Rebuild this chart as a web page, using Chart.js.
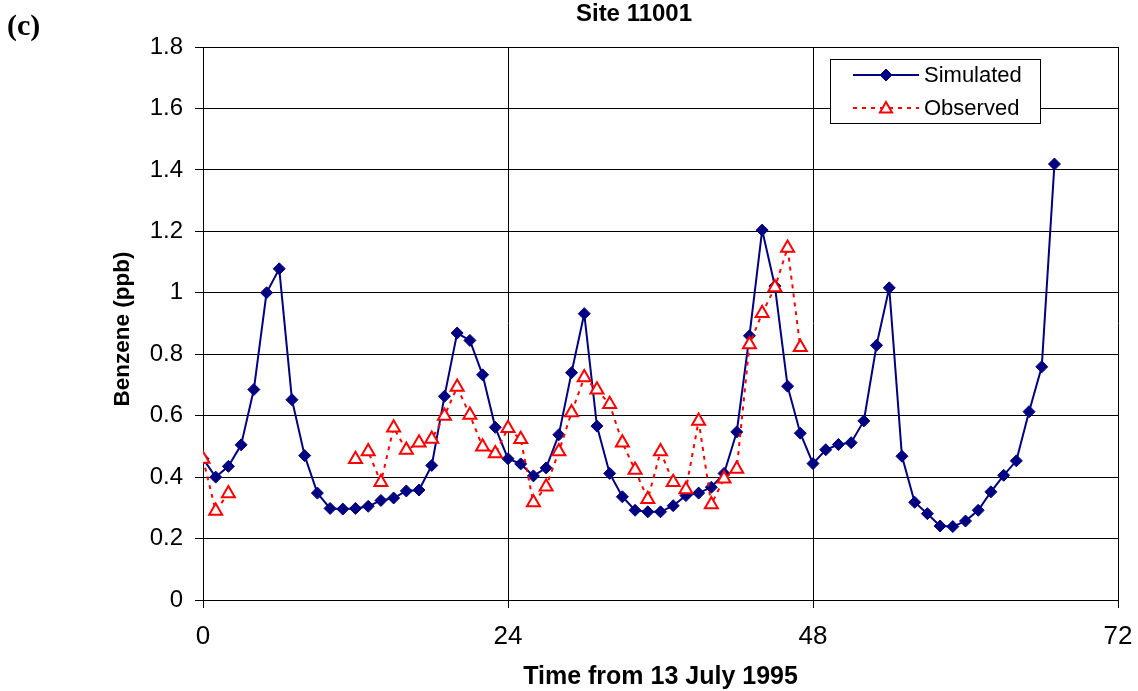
<!DOCTYPE html>
<html>
<head>
<meta charset="utf-8">
<title>Site 11001</title>
<script src="https://cdn.jsdelivr.net/npm/chart.js@4"></script>
<style>
  html, body { margin: 0; padding: 0; background: #fff; }
  #wrap { width: 1138px; height: 691px; }
</style>
</head>
<body>
<div id="wrap"><canvas id="myChart" width="1138" height="691"></canvas></div>
<script>
// Hours since start of 13 July 1995
var hours = [0, 1, 2, 3, 4, 5, 6, 7, 8, 9, 10, 11, 12, 13, 14, 15, 16, 17, 18, 19,
             20, 21, 22, 23, 24, 25, 26, 27, 28, 29, 30, 31, 32, 33, 34, 35, 36, 37, 38, 39,
             40, 41, 42, 43, 44, 45, 46, 47, 48, 49, 50, 51, 52, 53, 54, 55, 56, 57, 58, 59,
             60, 61, 62, 63, 64, 65, 66, 67];

// Modelled benzene (ppb)
var simulated = [0.46, 0.40, 0.435, 0.505, 0.685, 1.00, 1.078, 0.652, 0.47, 0.348,
                 0.298, 0.296, 0.298, 0.305, 0.324, 0.332, 0.355, 0.358, 0.438, 0.663,
                 0.869, 0.845, 0.733, 0.562, 0.46, 0.443, 0.404, 0.430, 0.538, 0.740,
                 0.932, 0.566, 0.412, 0.336, 0.292, 0.287, 0.287, 0.307, 0.340, 0.348,
                 0.367, 0.412, 0.547, 0.860, 1.204, 1.022, 0.696, 0.543, 0.444, 0.489,
                 0.506, 0.512, 0.583, 0.829, 1.016, 0.468, 0.318, 0.281, 0.241, 0.239,
                 0.257, 0.292, 0.352, 0.406, 0.453, 0.613, 0.759, 1.419];

// Measured benzene (ppb), null where no sample
var observed = [0.459, 0.29, 0.347, null, null, null, null, null, null, null,
                null, null, 0.458, 0.483, 0.383, 0.561, 0.488, 0.512, 0.524, 0.599,
                0.693, 0.602, 0.499, 0.477, 0.559, 0.523, 0.317, 0.369, 0.483, 0.610,
                0.724, 0.684, 0.637, 0.512, 0.423, 0.328, 0.483, 0.383, 0.360, 0.583,
                0.311, 0.395, 0.426, 0.832, 0.933, 1.017, 1.146, 0.823];

var xTicks = [0, 24, 48, 72];
var seriesNames = ['Simulated', 'Observed'];

function toPoints(values) {
    return values.map(function (v, i) { return { x: hours[i], y: v }; });
}

var NAVY = '#000080';
var RED = '#ff0000';
var SANS = '"Liberation Sans", Arial, sans-serif';

// Titles, axis names and the boxed legend
var decorations = {
    id: 'decorations',
    afterDraw: function (chart) {
        var ctx = chart.ctx;
        var area = chart.chartArea;
        ctx.save();
        ctx.fillStyle = '#000';

        ctx.font = 'bold 30px "Liberation Serif", "Times New Roman", serif';
        ctx.textAlign = 'left';
        ctx.textBaseline = 'middle';
        ctx.fillText('(c)', 7, 27);

        ctx.font = 'bold 24px ' + SANS;
        ctx.textAlign = 'center';
        ctx.fillText('Site 11001', 634, 14);

        ctx.font = 'bold 25px ' + SANS;
        ctx.fillText('Time from 13 July 1995', (area.left + area.right) / 2, 677);

        ctx.save();
        ctx.translate(123, 329);
        ctx.rotate(-Math.PI / 2);
        ctx.font = 'bold 22.5px ' + SANS;
        ctx.fillText('Benzene (ppb)', 0, 0);
        ctx.restore();

        // legend box
        var bx = 830.5, by = 59.5, bw = 210, bh = 64;
        ctx.fillStyle = '#fff';
        ctx.fillRect(bx, by, bw, bh);
        ctx.strokeStyle = '#000';
        ctx.lineWidth = 1;
        ctx.strokeRect(bx, by, bw, bh);

        var rows = [
            { y: 75, color: NAVY, dash: [], style: 'rectRot' },
            { y: 108, color: RED, dash: [4, 5], style: 'triangle' }
        ];
        rows.forEach(function (r, i) {
            ctx.save();
            ctx.strokeStyle = r.color;
            ctx.lineWidth = 2;
            ctx.setLineDash(r.dash);
            ctx.beginPath();
            ctx.moveTo(853, r.y);
            ctx.lineTo(919, r.y);
            ctx.stroke();
            ctx.restore();

            ctx.save();
            if (r.style === 'rectRot') {
                ctx.fillStyle = NAVY;
                ctx.strokeStyle = NAVY;
                ctx.lineWidth = 1;
                Chart.helpers.drawPoint(ctx, { pointStyle: 'rectRot', radius: 6, rotation: 0, borderWidth: 1 }, 886, r.y);
            } else {
                ctx.fillStyle = '#fff';
                ctx.strokeStyle = RED;
                ctx.lineWidth = 2;
                Chart.helpers.drawPoint(ctx, { pointStyle: 'triangle', radius: 7, rotation: 0, borderWidth: 2 }, 886, r.y + 1);
            }
            ctx.restore();

            ctx.fillStyle = '#000';
            ctx.font = '22px ' + SANS;
            ctx.textAlign = 'left';
            ctx.textBaseline = 'middle';
            ctx.fillText(seriesNames[i], 924, r.y + 1);
        });
        ctx.restore();
    }
};

var ctx = document.getElementById('myChart').getContext('2d');
var myChart = new Chart(ctx, {
    type: 'line',
    data: {
        datasets: [{
            label: seriesNames[0],
            data: toPoints(simulated),
            borderColor: NAVY,
            backgroundColor: NAVY,
            borderWidth: 2,
            pointStyle: 'rectRot',
            pointRadius: 6,
            pointBorderWidth: 1,
            tension: 0,
            order: 1
        }, {
            label: seriesNames[1],
            data: toPoints(observed),
            borderColor: RED,
            backgroundColor: '#fff',
            borderWidth: 2,
            borderDash: [4, 5],
            pointStyle: 'triangle',
            pointRadius: 7.5,
            pointBorderWidth: 2,
            spanGaps: false,
            tension: 0,
            order: 0
        }]
    },
    options: {
        responsive: false,
        animation: false,
        layout: { padding: { top: 47, right: 20, left: 0, bottom: 0 } },
        plugins: {
            legend: { display: false },
            title: { display: false },
            tooltip: { enabled: false }
        },
        scales: {
            x: {
                type: 'linear',
                min: 0,
                max: 72,
                afterBuildTicks: function (scale) {
                    scale.ticks = xTicks.map(function (v) { return { value: v }; });
                },
                afterFit: function (scale) {
                    scale.height = 91;
                    scale.paddingLeft = 0;
                    scale.paddingRight = 0;
                },
                grid: { color: '#000', lineWidth: 1, tickLength: 8 },
                border: { color: '#000', width: 1 },
                ticks: {
                    color: '#000',
                    padding: 13,
                    maxRotation: 0,
                    font: { family: SANS, size: 26 }
                }
            },
            y: {
                min: 0,
                max: 1.8,
                afterFit: function (scale) {
                    scale.width = 203;
                    scale.paddingTop = 0;
                    scale.paddingBottom = 0;
                },
                grid: { color: '#000', lineWidth: 1, tickLength: 8 },
                border: { color: '#000', width: 1 },
                ticks: {
                    stepSize: 0.2,
                    color: '#000',
                    padding: 12,
                    font: { family: SANS, size: 24 },
                    callback: function (v) { return String(+v.toFixed(1)); }
                }
            }
        }
    },
    plugins: [decorations]
});
</script>
</body>
</html>
